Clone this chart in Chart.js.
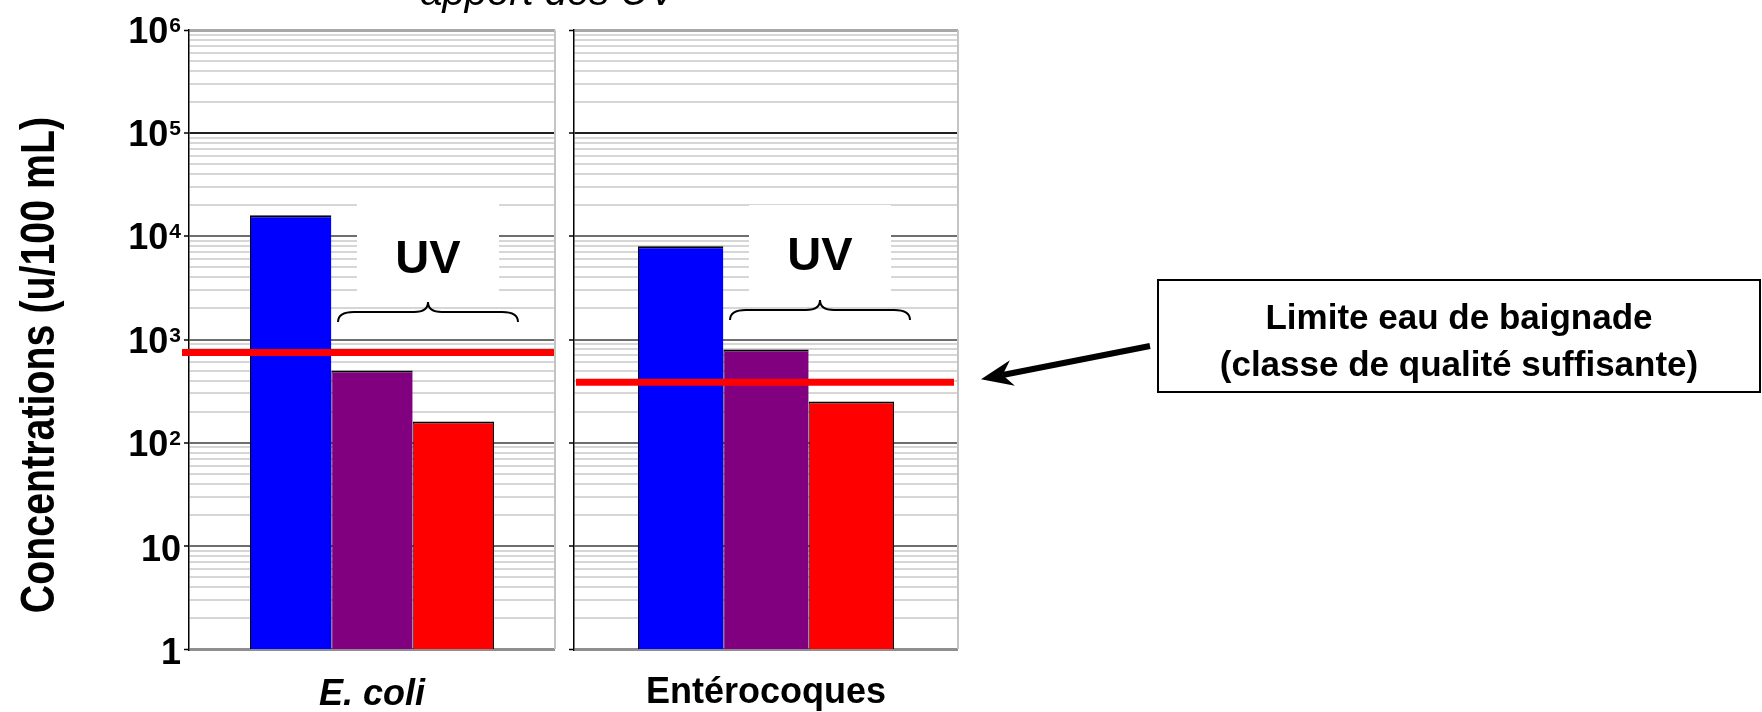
<!DOCTYPE html>
<html lang="fr">
<head>
<meta charset="utf-8">
<title>Concentrations bactériennes – apport des UV</title>
<script src="https://cdn.jsdelivr.net/npm/chart.js@4.4.1/dist/chart.umd.min.js"></script>
<style>
  html, body { margin: 0; padding: 0; background: #ffffff; }
  #wrap { position: relative; width: 1762px; height: 712px; overflow: hidden; }
  #wrap canvas { position: absolute; left: 0; top: 0; }
</style>
</head>
<body>
<div id="wrap">
  <canvas id="panelEcoli" width="1762" height="712"></canvas>
  <canvas id="panelEntero" width="1762" height="712"></canvas>
</div>
<script>
// ---- Données (u/100 mL) ----
const categories = ['E. coli', 'Entérocoques'];
const seriesNames = ['Sans UV', 'UV – dose 1', 'UV – dose 2'];
const sansUV = [16000, 8000];
const uvDose1 = [500, 800];
const uvDose2 = [160, 250];
// Limite eau de baignade (classe de qualité suffisante)
const limiteBaignade = [750, 385];

// ---- Axe des concentrations ----
const tickValues = [1, 10, 100, 1000, 10000, 100000, 1000000];
const tickBases = ['1', '10', '10', '10', '10', '10', '10'];
const tickExponents = ['', '', '2', '3', '4', '5', '6'];

// ---- Textes ----
const axisTitle = 'Concentrations (u/100 mL)';
const topTitle = 'apport des UV';
const braceLabel = 'UV';
const limitBoxLines = ['Limite eau de baignade', '(classe de qualité suffisante)'];

// ---- Mise en page ----
const W = 1762, H = 712;
const PLOT_TOP = 30, PLOT_BOTTOM = 649;
const FONT = '"Liberation Sans", Arial, Helvetica, sans-serif';
const seriesColors = ['#0000ff', '#800080', '#ff0000'];
const seriesValues = [sansUV, uvDose1, uvDose2];

// grille logarithmique : 1..9 x 10^k
const gridTicks = [];
for (let k = 0; k < tickValues.length - 1; k++) {
  for (let m = 1; m <= 9; m++) gridTicks.push(m * tickValues[k]);
}
gridTicks.push(tickValues[tickValues.length - 1]);
const isDecade = v => tickValues.includes(v);

function drawBrace(ctx, xl, xr, yTip, yLine, yEnd) {
  const xm = (xl + xr) / 2;
  ctx.save();
  ctx.strokeStyle = '#000';
  ctx.lineWidth = 2;
  ctx.beginPath();
  ctx.moveTo(xl, yEnd);
  ctx.quadraticCurveTo(xl, yLine, xl + 16, yLine);
  ctx.lineTo(xm - 14, yLine);
  ctx.quadraticCurveTo(xm, yLine, xm, yTip);
  ctx.quadraticCurveTo(xm, yLine, xm + 14, yLine);
  ctx.lineTo(xr - 16, yLine);
  ctx.quadraticCurveTo(xr, yLine, xr, yEnd);
  ctx.stroke();
  ctx.restore();
}

function drawArrow(ctx, x0, y0, x1, y1) {
  const ang = Math.atan2(y1 - y0, x1 - x0);
  const headLen = 32, headHalf = 13, notch = 10;
  ctx.save();
  ctx.strokeStyle = '#000';
  ctx.fillStyle = '#000';
  ctx.lineWidth = 6;
  ctx.beginPath();
  ctx.moveTo(x0, y0);
  ctx.lineTo(x1 - (headLen - notch) * Math.cos(ang), y1 - (headLen - notch) * Math.sin(ang));
  ctx.stroke();
  ctx.translate(x1, y1);
  ctx.rotate(ang);
  ctx.beginPath();
  ctx.moveTo(0, 0);
  ctx.lineTo(-headLen, -headHalf);
  ctx.lineTo(-headLen + notch, 0);
  ctx.lineTo(-headLen, headHalf);
  ctx.closePath();
  ctx.fill();
  ctx.restore();
}

// Décor de chaque panneau : bord droit, cartouche « UV », accolade, limite, libellés
const panelDecor = {
  id: 'panelDecor',
  beforeDatasetsDraw(chart, args, o) {
    const ctx = chart.ctx, a = chart.chartArea;
    const cx = chart.scales.x.getPixelForValue(0) + o.groupShift;
    ctx.save();
    // bord droit du panneau
    ctx.strokeStyle = '#c4c4c4';
    ctx.lineWidth = 2;
    ctx.beginPath();
    ctx.moveTo(a.right, a.top);
    ctx.lineTo(a.right, a.bottom);
    ctx.stroke();
    // cartouche blanc derrière « UV »
    ctx.fillStyle = '#ffffff';
    ctx.fillRect(cx - 71, a.top + o.boxTop, 142, o.boxHeight);
    ctx.restore();
  },
  afterDatasetsDraw(chart, args, o) {
    const ctx = chart.ctx, a = chart.chartArea;
    const y = chart.scales.y;
    const cx = chart.scales.x.getPixelForValue(0) + o.groupShift;
    // limite eau de baignade
    const ly = y.getPixelForValue(limiteBaignade[o.index]);
    ctx.save();
    ctx.strokeStyle = '#ff0000';
    ctx.lineWidth = 7;
    ctx.beginPath();
    ctx.moveTo(a.left + o.limitFrom, ly);
    ctx.lineTo(a.right + o.limitTo, ly);
    ctx.stroke();
    // accolade et texte « UV »
    drawBrace(ctx, cx - 90, cx + 90, a.top + o.braceTip, a.top + o.braceTip + 10, a.top + o.braceTip + 20);
    ctx.fillStyle = '#000';
    ctx.font = 'bold 47px ' + FONT;
    ctx.textAlign = 'center';
    ctx.textBaseline = 'alphabetic';
    ctx.fillText(braceLabel, cx, a.top + o.uvBaseline);
    ctx.restore();
  },
  afterDraw(chart, args, o) {
    const ctx = chart.ctx, a = chart.chartArea;
    const y = chart.scales.y;
    ctx.save();
    ctx.fillStyle = '#000';
    // libellé de catégorie
    ctx.font = (o.index === 0 ? 'italic bold 36px ' : 'bold 36px ') + FONT;
    ctx.textAlign = 'center';
    ctx.textBaseline = 'alphabetic';
    ctx.fillText(categories[o.index], chart.scales.x.getPixelForValue(0), o.labelBaseline);

    if (o.index === 0) {
      // graduations 1, 10, 10², ..., 10⁶
      const xr = a.left - 8;
      ctx.textAlign = 'right';
      tickValues.forEach((v, i) => {
        const py = y.getPixelForValue(v);
        if (tickExponents[i]) {
          ctx.font = 'bold 21px ' + FONT;
          const ew = ctx.measureText(tickExponents[i]).width;
          ctx.fillText(tickExponents[i], xr, py + 2);
          ctx.font = 'bold 36px ' + FONT;
          ctx.fillText(tickBases[i], xr - ew - 1, py + 13);
        } else {
          ctx.font = 'bold 36px ' + FONT;
          ctx.fillText(tickBases[i], xr, py + 15);
        }
      });
      // titre de l'axe vertical
      ctx.save();
      ctx.translate(54, 365);
      ctx.rotate(-Math.PI / 2);
      ctx.scale(0.82, 1);
      ctx.font = 'bold 48px ' + FONT;
      ctx.textAlign = 'center';
      ctx.fillText(axisTitle, 0, 0);
      ctx.restore();
      // titre (partiellement hors cadre)
      ctx.font = 'italic 40px ' + FONT;
      ctx.textAlign = 'center';
      ctx.fillText(topTitle, 548, 5);
    } else {
      // cartouche « Limite eau de baignade » et flèche vers la limite
      const ly = y.getPixelForValue(limiteBaignade[o.index]);
      ctx.strokeStyle = '#000';
      ctx.lineWidth = 2;
      ctx.fillStyle = '#ffffff';
      ctx.fillRect(1158, 280, 602, 112);
      ctx.strokeRect(1158, 280, 602, 112);
      ctx.fillStyle = '#000';
      ctx.font = 'bold 35px ' + FONT;
      ctx.textAlign = 'center';
      ctx.fillText(limitBoxLines[0], 1459, 329);
      ctx.fillText(limitBoxLines[1], 1459, 376);
      drawArrow(ctx, 1150, 346, a.right + 23, ly - 3);
    }
    ctx.restore();
  }
};

function makePanel(canvasId, index, left, right, decor) {
  return new Chart(document.getElementById(canvasId), {
    type: 'bar',
    data: {
      labels: [categories[index]],
      datasets: seriesNames.map((name, s) => ({
        label: name,
        data: [seriesValues[s][index]],
        backgroundColor: seriesColors[s],
        borderColor: '#000000',
        borderWidth: { top: 2, left: 1, right: s === seriesNames.length - 1 ? 1 : 0, bottom: 0 },
        categoryPercentage: 2 / 3,
        barPercentage: 1
      }))
    },
    options: {
      responsive: false,
      animation: false,
      devicePixelRatio: 1,
      layout: { padding: { left: 0, top: PLOT_TOP, right: W - right, bottom: H - PLOT_BOTTOM } },
      plugins: {
        legend: { display: false },
        tooltip: { enabled: false },
        title: { display: false },
        panelDecor: Object.assign({ index }, decor)
      },
      scales: {
        x: { display: false, offset: true },
        y: {
          type: 'logarithmic',
          min: 1,
          max: 1000000,
          afterFit: s => { s.width = left; },
          afterBuildTicks: s => { s.ticks = gridTicks.map(v => ({ value: v, major: isDecade(v) })); },
          ticks: { display: false },
          border: { display: true, color: '#000000', width: 1.5 },
          grid: {
            drawTicks: true,
            tickLength: 5,
            tickWidth: 1.5,
            tickColor: c => (c.tick && isDecade(c.tick.value)) ? '#000000' : 'rgba(0,0,0,0)',
            color: c => {
              const v = c.tick ? c.tick.value : 0;
              if (v === 1) return '#8f8f8f';
              if (v === 1000000) return '#a8a8a8';
              if (v === 100000) return '#202020';
              return isDecade(v) ? '#6e6e6e' : '#d6d6d6';
            },
            lineWidth: c => {
              const v = c.tick ? c.tick.value : 0;
              return (v === 1 || v === 1000000) ? 3 : 2;
            }
          }
        }
      }
    },
    plugins: [panelDecor]
  });
}

makePanel('panelEcoli', 0, 189, 555, {
  groupShift: 56, boxTop: 173, boxHeight: 88, braceTip: 272, uvBaseline: 243,
  limitFrom: -7, limitTo: -1, labelBaseline: 705
});
makePanel('panelEntero', 1, 574, 958, {
  groupShift: 54, boxTop: 175, boxHeight: 86, braceTip: 270, uvBaseline: 240,
  limitFrom: 2, limitTo: -4, labelBaseline: 703
});
</script>
</body>
</html>
